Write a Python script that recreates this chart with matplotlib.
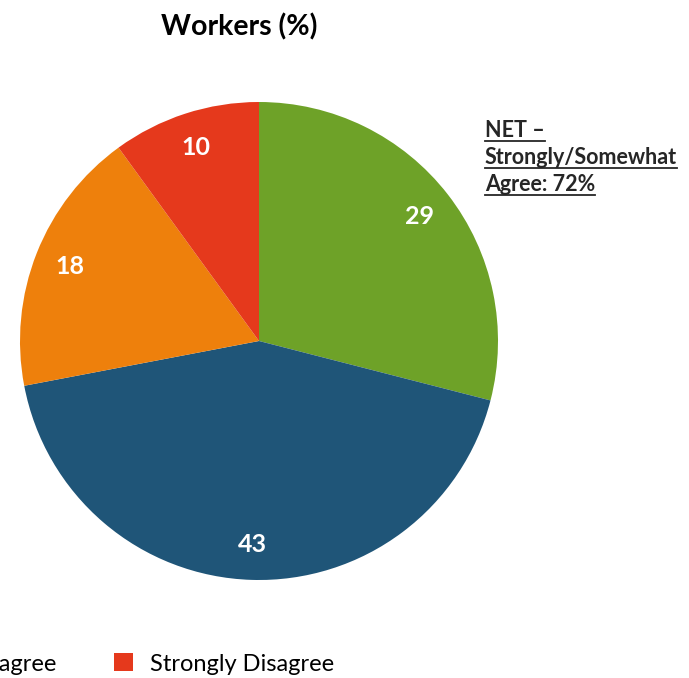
import matplotlib.pyplot as plt
from matplotlib.patches import Patch
from matplotlib.lines import Line2D

plt.rcParams['font.family'] = ['Lato', 'DejaVu Sans']

categories = ['Strongly Agree', 'Somewhat Agree', 'Somewhat Disagree', 'Strongly Disagree']
values = [29, 43, 18, 10]
colors = ['#6ea228', '#1f5578', '#ee800c', '#e5391c']
title = 'Workers (%)'
net_lines = ['NET \u2013', 'Strongly/Somewhat', 'Agree: 72%']

W, H = 689, 678
fig = plt.figure(figsize=(W / 100, H / 100), dpi=100)

# pie: centre (259, 341) px, radius 239 px
cx, cy, r = 259, 341, 239
ax = fig.add_axes([(cx - r) / W, (H - cy - r) / H, 2 * r / W, 2 * r / H])
wedges, texts, autotexts = ax.pie(
    values, colors=colors, startangle=90, counterclock=False,
    autopct=lambda p: f'{p:.0f}', pctdistance=0.85,
    wedgeprops=dict(linewidth=0),
    textprops=dict(color='white', fontsize=18, fontweight='bold'))
ax.set_xlim(-1, 1)
ax.set_ylim(-1, 1)
ax.set_aspect('equal')

fig.text(239 / W, 1 - 27 / H, title, ha='center', va='center',
         fontsize=20.5, fontweight='bold')

# NET annotation, underlined
baselines = [137, 164, 191]
net_texts = []
for line, yb in zip(net_lines, baselines):
    t = fig.text(485 / W, 1 - yb / H, line, ha='left', va='baseline',
                 fontsize=15.5, fontweight='bold', color='#262626')
    net_texts.append(t)

# legend: only the right end is visible in the frame
handles = [Patch(facecolor=c, edgecolor='none') for c in colors]
leg = fig.legend(handles, categories, ncol=4, loc='center right',
                 bbox_to_anchor=(334 / W, 1 - 664 / H), frameon=False,
                 fontsize=17, handlelength=0.8, handleheight=0.8,
                 handletextpad=0.72, columnspacing=2.45,
                 borderaxespad=0, borderpad=0)

fig.canvas.draw()
renderer = fig.canvas.get_renderer()
for t, yb in zip(net_texts, baselines):
    bb = t.get_window_extent(renderer)
    y = (H - yb - 4) / H
    fig.add_artist(Line2D([bb.x0 / W, bb.x1 / W], [y, y],
                          transform=fig.transFigure, color='#262626', lw=1.3))

fig.savefig('out.png', dpi=100)
